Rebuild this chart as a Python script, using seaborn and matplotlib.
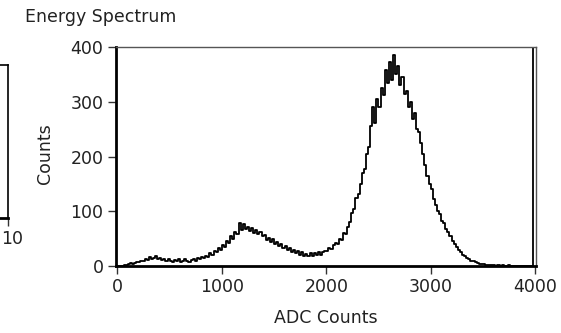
import numpy as np
import matplotlib
matplotlib.use("Agg")
import matplotlib.pyplot as plt
import seaborn as sns

# spectrum, 20 ADC-count bins from 0 to 4000
bin_edges = list(range(0, 4001, 20))
counts = [
    0, 0, 0, 1, 2, 3, 5, 4, 6, 8,
    7, 10, 9, 13, 11, 16, 12, 15, 18, 13,
    14, 11, 12, 9, 13, 10, 8, 11, 9, 12,
    8, 10, 12, 9, 7, 11, 13, 10, 14, 12,
    16, 14, 19, 17, 23, 20, 27, 25, 32, 29,
    38, 35, 45, 42, 55, 50, 62, 58, 78, 66,
    76, 68, 72, 64, 70, 61, 66, 58, 62, 54,
    57, 48, 52, 44, 49, 40, 43, 36, 40, 33,
    36, 29, 32, 26, 30, 24, 27, 21, 25, 19,
    22, 18, 24, 19, 23, 20, 26, 21, 25, 28,
    27, 33, 31, 38, 42, 40, 50, 48, 60, 58,
    72, 80, 96, 105, 125, 132, 150, 170, 178, 205,
    218, 255, 290, 262, 305, 290, 325, 312, 358, 335,
    372, 340, 385, 350, 365, 330, 345, 315, 320, 290,
    300, 268, 280, 250, 245, 225, 205, 185, 165, 150,
    140, 122, 112, 100, 95, 82, 78, 68, 62, 55,
    45, 40, 34, 30, 26, 21, 19, 15, 13, 10,
    9, 7, 6, 4, 4, 3, 2, 2, 1, 1,
    1, 0, 1, 0, 1, 0, 0, 1, 0, 0,
    0, 0, 0, 0, 0, 0, 0, 0, 0, 450,
]
bin_centers = [e + 10 for e in bin_edges[:-1]]
x_ticks = [0, 1000, 2000, 3000, 4000]
y_ticks = [0, 100, 200, 300, 400]

sns.set_style("white")
plt.rcParams['font.family'] = ['DejaVu Sans']
fs = 12.5

fig = plt.figure(figsize=(5.61, 3.33), dpi=100)

# main spectrum panel
ax = fig.add_axes([116 / 561, 67 / 333, 420 / 561, 219 / 333])
sns.histplot(x=bin_centers, weights=counts, bins=bin_edges, element="step",
             fill=False, color="black", linewidth=1.3, ax=ax)
ax.set_xlim(-14, 4009)
ax.set_ylim(0, 400)
ax.set_xticks(x_ticks)
ax.set_yticks(y_ticks)
ax.set_xlabel("")
ax.set_ylabel("")
ax.tick_params(direction="out", length=6, width=1, color="#333333",
               labelsize=fs, labelcolor="#222222", pad=3,
               bottom=True, left=True)
for side in ["top", "right"]:
    ax.spines[side].set_color("#555555")
    ax.spines[side].set_linewidth(1)
for side in ["left", "bottom"]:
    ax.spines[side].set_color("black")
    ax.spines[side].set_linewidth(2)

# partial neighbour panel at the left edge
ax2 = fig.add_axes([-0.3, 115 / 333, 0.3 + 8 / 561, 153 / 333])
ax2.set_xlim(0, 10)
ax2.set_ylim(0, 1)
ax2.set_xticks([10])
ax2.set_xticklabels([""])
ax2.set_yticks([])
ax2.tick_params(direction="out", length=6, width=1, color="#333333",
                bottom=True)
for side in ax2.spines:
    ax2.spines[side].set_color("black")
    ax2.spines[side].set_linewidth(1.2)
ax2.spines["bottom"].set_linewidth(2)
fig.text(1 / 561, 1 - 239 / 333, "10", fontsize=fs, color="#222222",
         ha="left", va="center")

fig.text(25 / 561, 1 - 17 / 333, "Energy Spectrum", fontsize=fs,
         color="#222222", ha="left", va="center")
fig.text(45 / 561, 1 - 154 / 333, "Counts", fontsize=fs, color="#222222",
         rotation=90, ha="center", va="center")
fig.text(326 / 561, 1 - 318 / 333, "ADC Counts", fontsize=fs,
         color="#222222", ha="center", va="center")

fig.savefig("out.png", dpi=100)
